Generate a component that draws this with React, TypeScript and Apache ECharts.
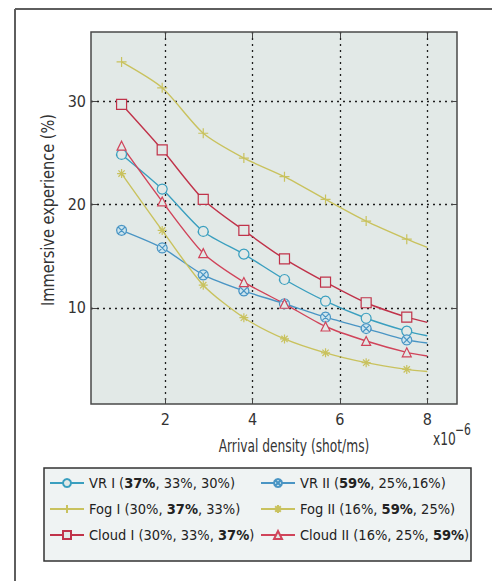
import React, { useEffect, useRef } from "react";
import * as echarts from "echarts";

const xValues = [1, 1.93, 2.87, 3.8, 4.73, 5.67, 6.6, 7.53, 8];
const vrI = [24.85, 21.5, 17.4, 15.2, 12.75, 10.65, 9.0, 7.75, 7.3];
const vrII = [17.5, 15.8, 13.2, 11.65, 10.4, 9.1, 8.0, 6.9, 6.6];
const fogI = [33.8, 31.3, 26.9, 24.5, 22.7, 20.5, 18.4, 16.65, 15.85];
const fogII = [23.0, 17.5, 12.2, 9.05, 7.0, 5.65, 4.7, 4.05, 3.85];
const cloudI = [29.7, 25.3, 20.5, 17.5, 14.75, 12.5, 10.5, 9.1, 8.6];
const cloudII = [25.7, 20.3, 15.3, 12.5, 10.4, 8.2, 6.8, 5.7, 5.35];

const xTicks = [2, 4, 6, 8];
const yTicks = [10, 20, 30];

const seriesNames = ["VR I", "VR II", "Fog I", "Fog II", "Cloud I", "Cloud II"];
const legendLabels: Record<string, string> = {
  "VR I": "VR I ({b|37%}, 33%, 30%)",
  "VR II": "VR II ({b|59%}, 25%,16%)",
  "Fog I": "Fog I (30%, {b|37%}, 33%)",
  "Fog II": "Fog II (16%, {b|59%}, 25%)",
  "Cloud I": "Cloud I (30%, 33%, {b|37%})",
  "Cloud II": "Cloud II (16%, 25%, {b|59%})",
};

const FONT = "'DejaVu Sans Condensed', 'Liberation Sans Narrow', sans-serif";
const PLOT_BG = "#e2e9e7";

const SYM_CIRCLE = "path://M5,0 A5,5 0 1,1 4.99,0 Z";
const SYM_CIRCLE_X = "path://M5,0 A5,5 0 1,1 4.99,0 Z M1.6,1.6 L8.4,8.4 M8.4,1.6 L1.6,8.4";
const SYM_PLUS = "path://M5,0 L5,10 M0,5 L10,5";
const SYM_STAR = "path://M5,0 L5,10 M0,5 L10,5 M1.5,1.5 L8.5,8.5 M8.5,1.5 L1.5,8.5";
const SYM_SQUARE = "path://M0,0 L10,0 L10,10 L0,10 Z";
const SYM_TRI = "path://M5,0 L10,9 L0,9 Z";

function toData(ys: number[]) {
  return ys.map((y, i) =>
    i === ys.length - 1
      ? { value: [xValues[i], y], symbol: "none" }
      : { value: [xValues[i], y] }
  );
}

export default function App() {
  const ref = useRef<HTMLDivElement>(null);
  useEffect(() => {
    if (!ref.current) return;
    const chart = echarts.init(ref.current, null, { renderer: "svg" });

    const mk = (
      name: string,
      ys: number[],
      color: string,
      symbol: string,
      size: number,
      fill: string
    ) => ({
      name,
      type: "line",
      data: toData(ys),
      smooth: 0.25,
      symbol,
      symbolSize: size,
      showSymbol: true,
      lineStyle: { color, width: 1.4 },
      itemStyle: { color: fill, borderColor: color, borderWidth: 1.2 },
      emphasis: { disabled: true },
      z: 3,
    });

    const tick = { inside: true, length: 6, lineStyle: { color: "#444", width: 1 } };
    const legendText = {
      fontFamily: FONT,
      fontSize: 14.5,
      lineHeight: 18,
      color: "#222",
      rich: {
        b: { fontFamily: FONT, fontSize: 14.5, fontWeight: "bold", lineHeight: 18, color: "#222" },
      },
    };

    chart.setOption({
      animation: false,
      grid: {
        left: 91,
        top: 32,
        right: 35,
        bottom: 177,
        show: true,
        backgroundColor: PLOT_BG,
        borderColor: "#4a4a4a",
        borderWidth: 1.5,
      },
      xAxis: [
        {
          type: "value",
          min: 0.3,
          max: 8.68,
          axisLine: { show: false },
          axisTick: { ...tick, customValues: xTicks },
          axisLabel: {
            customValues: xTicks,
            margin: 7,
            fontFamily: FONT,
            fontSize: 16,
            color: "#333",
          },
          splitLine: {
            show: true,
            lineStyle: { color: "#1e1e1e", type: [2, 4], width: 1.3 },
          },
        },
        {
          type: "value",
          position: "top",
          min: 0.3,
          max: 8.68,
          axisLine: { show: false },
          axisTick: { ...tick, customValues: xTicks },
          axisLabel: { show: false },
          splitLine: { show: false },
        },
      ],
      yAxis: [
        {
          type: "value",
          min: 0.7,
          max: 36.7,
          axisLine: { show: false },
          axisTick: { ...tick, customValues: yTicks },
          axisLabel: {
            customValues: yTicks,
            margin: 5,
            fontFamily: FONT,
            fontSize: 16,
            color: "#333",
          },
          splitLine: {
            show: true,
            lineStyle: { color: "#1e1e1e", type: [2, 4], width: 1.3 },
          },
        },
        {
          type: "value",
          position: "right",
          min: 0.7,
          max: 36.7,
          axisLine: { show: false },
          axisTick: { ...tick, customValues: yTicks },
          axisLabel: { show: false },
          splitLine: { show: false },
        },
      ],
      legend: [
        {
          data: ["VR I", "Fog I", "Cloud I"],
          orient: "vertical",
          left: 49,
          top: 474,
          padding: 0,
          itemGap: 8,
          itemWidth: 34,
          itemHeight: 10,
          selectedMode: false,
          formatter: (n: string) => legendLabels[n],
          textStyle: legendText,
        },
        {
          data: ["VR II", "Fog II", "Cloud II"],
          orient: "vertical",
          left: 260,
          top: 474,
          padding: 0,
          itemGap: 8,
          itemWidth: 34,
          itemHeight: 10,
          selectedMode: false,
          formatter: (n: string) => legendLabels[n],
          textStyle: legendText,
        },
      ],
      graphic: [
        {
          type: "line",
          shape: { x1: 15, y1: 9, x2: 492, y2: 9 },
          style: { stroke: "#5e5e5e", lineWidth: 2 },
          z: -1,
        },
        {
          type: "line",
          shape: { x1: 15, y1: 9, x2: 15, y2: 581 },
          style: { stroke: "#5e5e5e", lineWidth: 2 },
          z: -1,
        },
        {
          type: "rect",
          shape: { x: 44, y: 468, width: 427, height: 93 },
          style: { fill: "#eff3f3", stroke: "#333", lineWidth: 1.5 },
          z: -1,
        },
        {
          type: "text",
          x: 48,
          y: 210,
          rotation: Math.PI / 2,
          scaleX: 0.9,
          style: {
            text: "Immersive experience (%)",
            fontFamily: FONT,
            fontSize: 18,
            fill: "#333",
            textAlign: "center",
            textVerticalAlign: "middle",
          },
        },
        {
          type: "text",
          x: 294,
          y: 446,
          scaleX: 0.8,
          style: {
            text: "Arrival density (shot/ms)",
            fontFamily: FONT,
            fontSize: 17,
            fill: "#333",
            textAlign: "center",
            textVerticalAlign: "middle",
          },
        },
        {
          type: "text",
          x: 433,
          y: 439,
          scaleX: 0.8,
          style: {
            text: "x10",
            fontFamily: FONT,
            fontSize: 17,
            fill: "#333",
            textAlign: "left",
            textVerticalAlign: "middle",
          },
        },
        {
          type: "text",
          x: 455,
          y: 429,
          scaleX: 0.8,
          style: {
            text: "−6",
            fontFamily: FONT,
            fontSize: 15,
            fill: "#333",
            textAlign: "left",
            textVerticalAlign: "middle",
          },
        },
      ],
      series: [
        mk(seriesNames[0], vrI, "#3a9fbf", SYM_CIRCLE, 10, PLOT_BG),
        mk(seriesNames[1], vrII, "#4a95c4", SYM_CIRCLE_X, 10, "#cde5ee"),
        mk(seriesNames[2], fogI, "#c9c25e", SYM_PLUS, 10, PLOT_BG),
        mk(seriesNames[3], fogII, "#c9c25e", SYM_STAR, 9, PLOT_BG),
        mk(seriesNames[4], cloudI, "#c0334a", SYM_SQUARE, 10, PLOT_BG),
        mk(seriesNames[5], cloudII, "#d0445a", SYM_TRI, 9, PLOT_BG),
      ],
    });
    return () => chart.dispose();
  }, []);
  return (
    <div
      ref={ref}
      style={{ position: "fixed", left: 0, top: 0, width: 492, height: 581, background: "#fff" }}
    />
  );
}
